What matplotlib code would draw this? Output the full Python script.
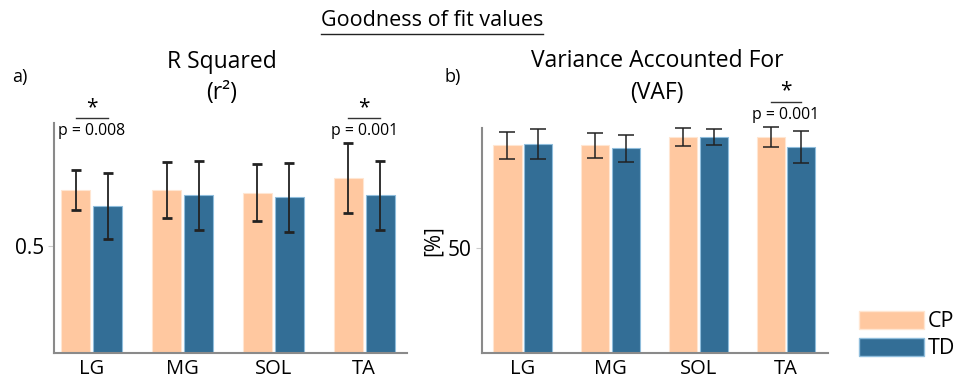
import numpy as np
import matplotlib
matplotlib.use("Agg")
from matplotlib import pyplot as plt
from matplotlib.patches import Patch
from matplotlib.lines import Line2D

plt.rcParams['font.family'] = ['Open Sans', 'DejaVu Sans']

# data
muscles = ['LG', 'MG', 'SOL', 'TA']

r2_cp = [0.605, 0.605, 0.600, 0.627]
r2_cp_sd = [0.038, 0.052, 0.053, 0.066]
r2_td = [0.575, 0.595, 0.591, 0.595]
r2_td_sd = [0.061, 0.065, 0.065, 0.065]

vaf_cp = [89.2, 89.1, 92.4, 92.4]
vaf_cp_sd = [5.2, 4.7, 3.5, 3.8]
vaf_td = [89.7, 88.0, 92.4, 88.6]
vaf_td_sd = [5.8, 5.2, 3.0, 6.0]

# significant comparisons: (muscle index, p text)
r2_sig = [(0, 'p = 0.008'), (3, 'p = 0.001')]
vaf_sig = [(3, 'p = 0.001')]

cp_col = '#ffc8a0'
td_col = '#336e96'
spine_col = '#8a8a8a'
w = 0.32
off = 0.176

fig = plt.figure(figsize=(9.71, 3.80), dpi=100)
ax1 = fig.add_axes([0.0556, 0.0711, 0.3635, 0.605])
ax2 = fig.add_axes([0.496, 0.0705, 0.3567, 0.593])


def draw_panel(ax, cp, cp_sd, td, td_sd, ylim, xlim, ticks, sig, sig_y, cap):
    x = np.arange(len(muscles))
    ax.bar(x - off, cp, w, color=cp_col, edgecolor='#ffe6d2', linewidth=0.8, zorder=2)
    ax.bar(x + off, td, w, color=td_col, edgecolor='#8fbddc', linewidth=0.8, zorder=2)
    csize, cthick, elw = cap
    for xs, v, e in [(x - off, cp, cp_sd), (x + off, td, td_sd)]:
        ax.errorbar(xs, v, yerr=e, fmt='none', ecolor='#222222',
                    elinewidth=elw, capsize=csize, capthick=cthick, zorder=3, clip_on=False)
    ax.set_ylim(*ylim)
    ax.set_xlim(*xlim)
    ax.set_xticks(x)
    ax.set_xticklabels(muscles, fontsize=14.5)
    ax.set_yticks(ticks)
    ax.tick_params(axis='x', length=0, pad=4)
    ax.tick_params(axis='y', length=4, color='#cccccc', labelsize=15, pad=3)
    for s in ['top', 'right']:
        ax.spines[s].set_visible(False)
    for s in ['left', 'bottom']:
        ax.spines[s].set_color(spine_col)
        ax.spines[s].set_linewidth(1.5)
    ly, sy, py = sig_y
    for i, ptxt in sig:
        ax.add_line(Line2D([i - off, i + off], [ly, ly], color='#333333',
                           linewidth=1.0, clip_on=False))
        ax.text(i, sy, '*', ha='center', va='center', fontsize=15)
        ax.text(i, py, ptxt, ha='center', va='center', fontsize=11.3)


draw_panel(ax1, r2_cp, r2_cp_sd, r2_td, r2_td_sd, (0.3, 0.73), (-0.415, 3.47),
           [0.5], r2_sig, (0.739, 0.758, 0.716), (3.7, 2.0, 1.3))
draw_panel(ax2, vaf_cp, vaf_cp_sd, vaf_td, vaf_td_sd, (10, 95.8), (-0.471, 3.479),
           [50], vaf_sig, (105.6, 110.0, 100.8), (6.0, 1.1, 1.1))
ax1.set_yticklabels(['0.5'])
ax2.set_yticklabels(['50'])
ax2.set_ylabel('[%]', fontsize=15, labelpad=3)

# titles and panel letters
fig.text(222 / 971, 1 - 62 / 380, 'R Squared', ha='center', va='center', fontsize=16.5)
fig.text(222 / 971, 1 - 93 / 380, '(r²)', ha='center', va='center', fontsize=16.5)
fig.text(657 / 971, 1 - 61 / 380, 'Variance Accounted For', ha='center', va='center', fontsize=16.5)
fig.text(657 / 971, 1 - 93 / 380, '(VAF)', ha='center', va='center', fontsize=16.5)
fig.text(20 / 971, 1 - 77 / 380, 'a)', ha='center', va='center', fontsize=13)
fig.text(453 / 971, 1 - 77 / 380, 'b)', ha='center', va='center', fontsize=13)

title = fig.text(432 / 971, 1 - 20 / 380, 'Goodness of fit values', ha='center',
                 va='center', fontsize=15.5)
fig.canvas.draw()
bb = title.get_window_extent().transformed(fig.transFigure.inverted())
fig.add_artist(Line2D([bb.x0, bb.x1], [bb.y0 - 0.008, bb.y0 - 0.008],
                      color='#222222', linewidth=1.0, transform=fig.transFigure))

handles = [Patch(facecolor=cp_col, edgecolor='#ffe6d2', label='CP'),
           Patch(facecolor=td_col, edgecolor='#8fbddc', label='TD')]
fig.legend(handles=handles, loc='upper left', bbox_to_anchor=(859 / 971, 1 - 311 / 380),
           frameon=False, fontsize=15.5, handlelength=3.0, handleheight=0.9,
           handletextpad=0.2, labelspacing=0.25, borderpad=0, borderaxespad=0)

fig.savefig('out.png', dpi=100)
